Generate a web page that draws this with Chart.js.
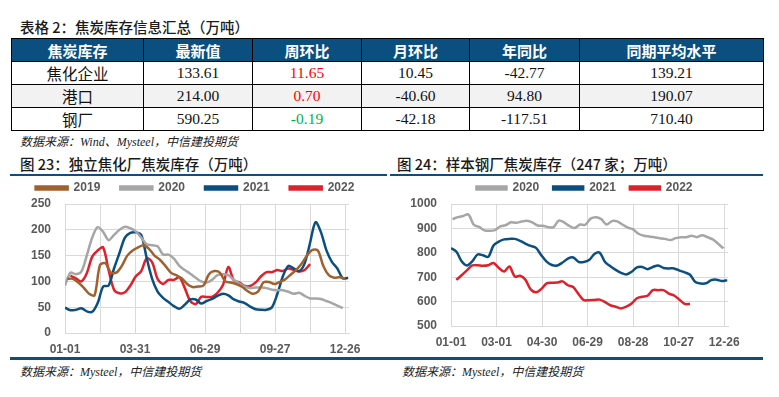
<!DOCTYPE html>
<html>
<head>
<meta charset="utf-8">
<script src="https://cdn.jsdelivr.net/npm/chart.js@4.4.0/dist/chart.umd.min.js"></script>
<style>
    body { margin: 0; width: 779px; height: 397px; background: #fff; position: relative; overflow: hidden;
           font-family: "Noto Sans CJK SC", sans-serif; }
    .title { position: absolute; font-size: 14.5px; line-height: 20px; color: #1a1a1a; white-space: nowrap; font-weight: 500; }
    .src { position: absolute; font-size: 12px; line-height: 16px; font-style: italic; color: #222;
           font-family: "Liberation Serif", "Noto Sans CJK SC", serif; white-space: nowrap; }
    .rule { position: absolute; background: #0b4f80; }
    table { position: absolute; left: 11px; top: 38px; border-collapse: collapse; table-layout: fixed; }
    th, td { border: 1px solid #000; text-align: center; padding: 0; }
    th { background: #0b4f80; color: #fff; font-weight: bold; font-size: 15px; height: 22px; }
    td { font-size: 15.5px; height: 21px; font-family: "Liberation Serif", serif; color: #111; }
    td.name { font-family: "Noto Sans CJK SC", sans-serif; }
    tr.alt td { background: #f2f2f2; }
    .up { color: #ff0000; }
    .down { color: #00b050; }
    .box { position: absolute; }
</style>
</head>
<body>
<div class="title" style="left:20px;top:17px;">表格 2：焦炭库存信息汇总（万吨）</div>
<table>
    <colgroup>
        <col style="width:132px"><col style="width:109px"><col style="width:109px">
        <col style="width:108px"><col style="width:110px"><col style="width:184px">
    </colgroup>
    <thead>
        <tr><th>焦炭库存</th><th>最新值</th><th>周环比</th><th>月环比</th><th>年同比</th><th>同期平均水平</th></tr>
    </thead>
    <tbody id="tbody"></tbody>
</table>
<div class="src" style="left:20px;top:134px;">数据来源：Wind、Mysteel，中信建投期货</div>

<div class="title" style="left:20px;top:154px;">图 23：独立焦化厂焦炭库存（万吨）</div>
<div class="title" style="left:397px;top:154px;">图 24：样本钢厂焦炭库存（247 家；万吨）</div>
<div class="rule" style="left:10px;top:174px;width:377px;height:2px;"></div>
<div class="rule" style="left:390px;top:174px;width:373px;height:2px;"></div>

<div class="box" style="left:0px;top:162px;width:390px;height:196px;"><canvas id="c1"></canvas></div>
<div class="box" style="left:390px;top:168px;width:389px;height:190px;"><canvas id="c2"></canvas></div>

<div class="rule" style="left:10px;top:357px;width:380px;height:3px;"></div>
<div class="rule" style="left:390px;top:357px;width:373px;height:3px;"></div>
<div class="src" style="left:20px;top:364px;">数据来源：Mysteel，中信建投期货</div>
<div class="src" style="left:402px;top:364px;">数据来源：Mysteel，中信建投期货</div>

<script>
// ---- table data ----
const tableRows = ['焦化企业', '港口', '钢厂'];
const latest = ['133.61', '214.00', '590.25'];
const weekChg = ['11.65', '0.70', '-0.19'];
const monthChg = ['10.45', '-40.60', '-42.18'];
const yearChg = ['-42.77', '94.80', '-117.51'];
const avgLevel = ['139.21', '190.07', '710.40'];

// ---- chart 23: independent coking plants, weekly (万吨) ----
const cokeYears = ['2019', '2020', '2021', '2022'];
const cokeStartDay = [3, 0, 0, 7];
const coke2019 = [105, 105, 98, 88, 76, 73, 132, 135, 117, 117, 130, 150, 160, 166, 170, 163, 150, 142, 130, 117,
    112, 106, 95, 89, 90, 92, 114, 120, 117, 100, 98, 95, 90, 82, 76, 80, 98, 99, 95, 99,
    104, 113, 122, 134, 150, 161, 160, 130, 112, 107, 108, 105];
const coke2020 = [92, 117, 114, 119, 150, 185, 205, 196, 180, 190, 200, 206, 203, 197, 185, 172, 170, 168, 152, 152,
    144, 130, 122, 115, 107, 100, 98, 103, 112, 114, 112, 103, 96, 90, 87, 88, 88, 87, 84, 83,
    83, 80, 76, 78, 72, 67, 67, 66, 62, 58, 53, 48];
const coke2021 = [49, 44, 45, 48, 42, 41, 58, 90, 92, 125, 155, 185, 194, 195, 190, 145, 105, 80, 68, 60,
    52, 47, 55, 65, 65, 57, 62, 66, 72, 76, 73, 65, 61, 58, 51, 46, 45, 45, 50, 76,
    110, 130, 125, 120, 135, 175, 215, 195, 160, 138, 125, 106, 107];
const coke2022 = [111, 106, 100, 116, 148, 160, 166, 122, 84, 77, 79, 92, 110, 120, 145, 137, 105, 95, 103, 103,
    108, 87, 62, 56, 70, 70, 70, 78, 93, 128, 102, 98, 91, 91, 98, 110, 118, 118, 122, 120,
    125, 122, 119, 121.96, 133.61];
const cokeTickLabels = ['01-01', '03-31', '06-29', '09-27', '12-26'];

// ---- chart 24: 247 steel mills, weekly (万吨) ----
const millYears = ['2020', '2021', '2022'];
const millStartDay = [2, 0, 7];
const mill2020 = [938, 946, 951, 957, 915, 906, 892, 890, 893, 908, 913, 925, 923, 928, 931, 925, 912, 911, 905, 905,
    932, 925, 910, 902, 916, 915, 940, 946, 938, 916, 930, 929, 916, 903, 896, 878, 870, 867, 864, 860,
    857, 852, 860, 864, 864, 870, 864, 872, 864, 855, 837, 818];
const mill2021 = [819, 805, 765, 748, 765, 793, 790, 783, 830, 846, 855, 857, 857, 849, 838, 828, 820, 790, 764, 750,
    748, 760, 776, 781, 763, 762, 770, 795, 800, 762, 745, 730, 718, 711, 722, 740, 742, 733, 742, 748,
    738, 736, 736, 727, 720, 710, 680, 674, 675, 688, 690, 684, 688];
const mill2022 = [689, 708, 728, 748, 749, 747, 749, 758, 738, 723, 744, 703, 706, 690, 650, 638, 652, 675, 677, 678,
    683, 667, 660, 631, 606, 606, 607, 608, 598, 585, 579, 572, 579, 592, 614, 620, 624, 647, 647, 647,
    633, 625, 608, 590.44, 590.25];
const millTickLabels = ['01-01', '03-01', '04-30', '06-29', '08-28', '10-27', '12-26'];

const colors = { '2019': '#a0612f', '2020': '#a6a6a6', '2021': '#0b4f80', '2022': '#e0202a' };

// ---- build table ----
const tbody = document.getElementById('tbody');
tableRows.forEach((name, i) => {
    const tr = document.createElement('tr');
    if (i === 1) tr.className = 'alt';
    const wk = parseFloat(weekChg[i]) >= 0 ? 'up' : 'down';
    tr.innerHTML = `<td class="name">${name}</td><td>${latest[i]}</td><td class="${wk}">${weekChg[i]}</td>` +
        `<td>${monthChg[i]}</td><td>${yearChg[i]}</td><td>${avgLevel[i]}</td>`;
    tbody.appendChild(tr);
});

// ---- charts ----
Chart.defaults.font.family = '"Liberation Sans", Arial, sans-serif';
Chart.defaults.font.weight = 'bold';
Chart.defaults.font.size = 12;
Chart.defaults.color = '#595959';

function toPoints(values, start) {
    return values.map((v, i) => ({ x: start + i * 7, y: v }));
}

function makeDatasets(years, starts, series, width) {
    return years.map((y, i) => ({
        label: y,
        data: toPoints(series[i], starts[i]),
        borderColor: colors[y],
        backgroundColor: colors[y],
        borderWidth: width,
        pointRadius: 0,
        tension: 0.3,
        fill: false
    }));
}

function makeChart(id, datasets, opts) {
    return new Chart(document.getElementById(id), {
        type: 'line',
        data: { datasets },
        options: {
            responsive: true,
            maintainAspectRatio: false,
            animation: false,
            layout: { padding: 0 },
            plugins: {
                tooltip: { enabled: false },
                legend: {
                    position: 'top',
                    labels: { boxWidth: opts.boxWidth, boxHeight: 3, padding: opts.legendPad, color: '#595959',
                              font: { weight: 'bold', size: 12 } }
                }
            },
            scales: {
                x: {
                    type: 'linear', min: 0, max: 365,
                    grid: { color: '#d9d9d9', drawTicks: false },
                    border: { color: '#d9d9d9' },
                    ticks: {
                        stepSize: opts.xStep, includeBounds: false, padding: 9, maxRotation: 0, autoSkip: false,
                        callback: v => (v % opts.labelEvery === 0 ? opts.labels[v / opts.labelEvery] : '')
                    },
                    afterFit: s => { s.height = opts.xHeight; }
                },
                y: {
                    min: opts.yMin, max: opts.yMax,
                    grid: { color: '#d9d9d9', drawTicks: false },
                    border: { display: false },
                    ticks: { stepSize: opts.yStep, padding: 14, autoSkip: false, callback: v => String(v) },
                    afterFit: s => { s.width = opts.yWidth; }
                },
                // empty spacer on the right so the legend keeps the full canvas width
                spacer: {
                    position: 'right', min: 0, max: 1,
                    grid: { display: false }, border: { display: false }, ticks: { display: false },
                    afterFit: s => { s.width = opts.padRight; }
                }
            }
        }
    });
}

makeChart('c1', makeDatasets(cokeYears, cokeStartDay, [coke2019, coke2020, coke2021, coke2022], 2.5), {
    padRight: 41, boxWidth: 32, legendPad: 20, xStep: 45, labelEvery: 90, labels: cokeTickLabels,
    xHeight: 25, yMin: 0, yMax: 250, yStep: 50, yWidth: 65
});

makeChart('c2', makeDatasets(millYears, millStartDay, [mill2020, mill2021, mill2022], 2.5), {
    padRight: 51, boxWidth: 30, legendPad: 14, xStep: 60, labelEvery: 60, labels: millTickLabels,
    xHeight: 32, yMin: 500, yMax: 1000, yStep: 100, yWidth: 61
});
</script>
</body>
</html>
